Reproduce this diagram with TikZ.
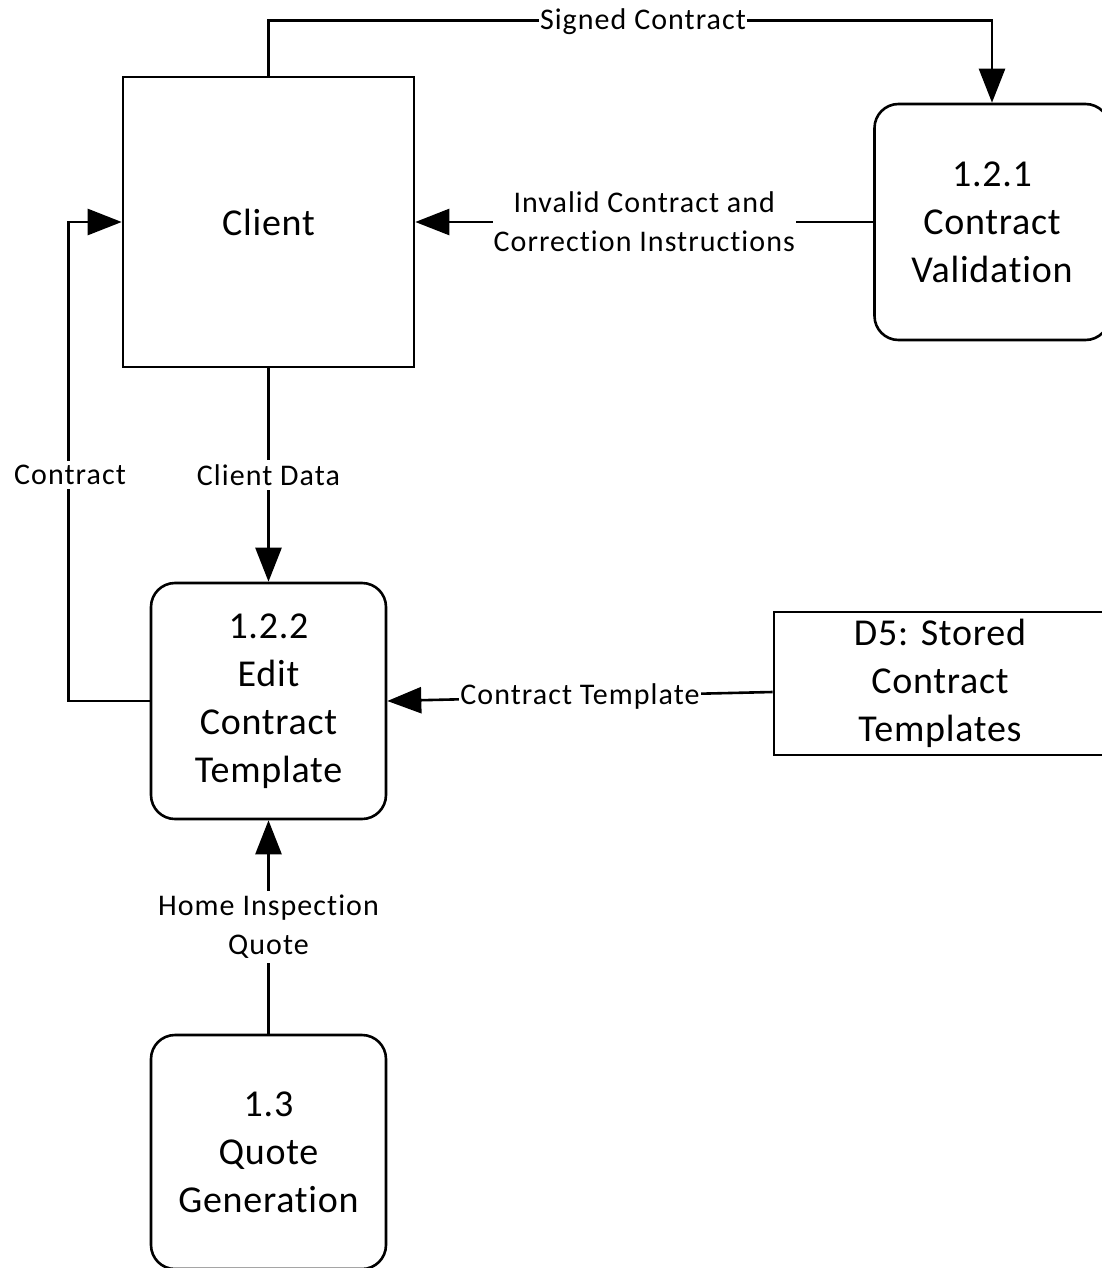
\documentclass[tikz,border=0pt]{standalone}
\usepackage{fontspec}
\setmainfont{Carlito}[Ligatures={NoCommon,NoRequired,NoContextual}]
\newfontfamily\boxfont{Carlito}[LetterSpace=2,Ligatures={NoCommon,NoRequired,NoContextual}]
\newfontfamily\flowfont{Carlito}[LetterSpace=3.5,Ligatures={NoCommon,NoRequired,NoContextual}]
\usetikzlibrary{arrows.meta,calc}
\begin{document}
\begin{tikzpicture}[x=1pt,y=-1pt,
  line width=2.6pt,
  entity/.style={draw, rectangle, minimum width=291pt, minimum height=290pt,
    font=\boxfont\fontsize{38}{48}\selectfont, inner sep=0pt},
  process/.style={draw, rectangle, rounded corners=24pt, align=center,
    minimum width=235pt, minimum height=236pt, inner sep=0pt,
    font=\boxfont\fontsize{38}{48}\selectfont},
  store/.style={draw, rectangle, align=center, minimum width=332pt,
    minimum height=143pt, inner sep=0pt, font=\boxfont\fontsize{38}{48}\selectfont},
  flow/.style={-{Triangle[length=34pt,width=26pt]}},
  lbl/.style={fill=white, inner xsep=1pt, inner ysep=4pt, align=center,
    font=\flowfont\fontsize{30}{39}\selectfont}]
\useasboundingbox (0,0) rectangle (1102,1268);
\clip (0,0) rectangle (1102,1268);

% external entity and processes
\node[entity] (client) at (268.5,222) {Client};
\node[process] (v121) at (992,222) {1.2.1\\Contract\\Validation};
\node[process] (edit) at (268.5,701) {1.2.2\\Edit\\Contract\\Template};
\node[store] (d5) at (940,683.5) {D5: Stored\\Contract\\Templates};
\node[process, minimum height=234pt] (q13) at (268.5,1152) {1.3\\Quote\\Generation};

% data flows
\draw[flow] (client.north) -- ++(0,-55) -| (v121.north);
\node[lbl] (lsigned) at (643,22) {Signed Contract};

\draw[flow] (v121.west) -- (client.east)
  node[lbl, midway] (linvalid) {Invalid Contract and\\Correction Instructions};

\draw[flow] (client.south) -- (edit.north)
  node[lbl, midway] (lclient) {Client Data};

\draw[flow] (edit.west) -- ++(-81,0) |- (client.west);
\node[lbl] (lcontract) at (70,475) {Contract};

\draw[flow] ($(d5.west)+(0,8.5)$) -- (edit.east)
  node[lbl, midway] (ltemplate) {Contract Template};

\draw[flow] (q13.north) -- (edit.south)
  node[lbl, midway] (lquote) {Home Inspection\\Quote};
\end{tikzpicture}
\end{document}
